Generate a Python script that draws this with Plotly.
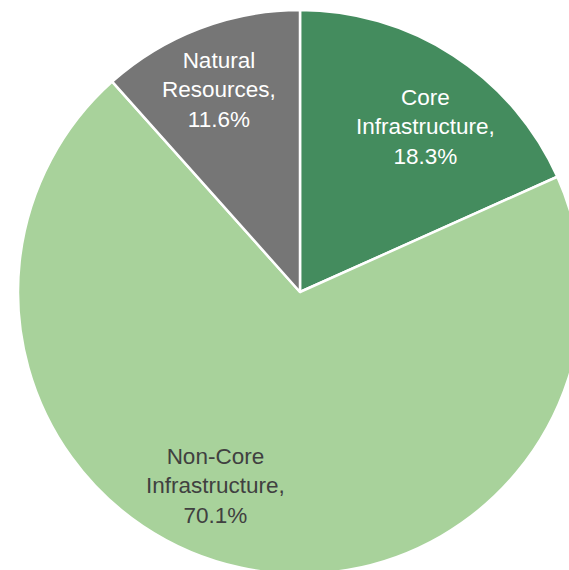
import plotly.graph_objects as go

# Sector shares of the portfolio (percent)
labels = ["Core Infrastructure", "Non-Core Infrastructure", "Natural Resources"]
label_lines = [["Core", "Infrastructure,"], ["Non-Core", "Infrastructure,"], ["Natural", "Resources,"]]
shares = [18.3, 70.1, 11.6]
colors = ["#448C5E", "#A8D29B", "#767676"]
text_colors = ["#FFFFFF", "#404040", "#FFFFFF"]

W, H = 600, 600
# pie placement in pixels: center and radius
cx, cy, r = 300, 292, 282

fig = go.Figure(
    go.Pie(
        labels=labels,
        values=shares,
        sort=False,
        direction="clockwise",
        rotation=0,
        marker=dict(colors=colors, line=dict(color="#FFFFFF", width=2.5)),
        textinfo="none",
        hoverinfo="skip",
        showlegend=False,
        domain=dict(
            x=[(cx - r) / W, (cx + r) / W],
            y=[(H - (cy + r)) / H, (H - (cy - r)) / H],
        ),
    )
)

# label anchor points (pixels from top-left) for each slice
label_pos = [(425, 127), (215, 486), (219, 90)]
for lines, val, col, (px, py) in zip(label_lines, shares, text_colors, label_pos):
    fig.add_annotation(
        x=px / W,
        y=1 - py / H,
        xref="paper",
        yref="paper",
        text="<br>".join(lines + [f"{val:.1f}%"]),
        showarrow=False,
        xanchor="center",
        yanchor="middle",
        align="center",
        font=dict(family="Liberation Sans, Arial, sans-serif", size=22.5, color=col),
    )

fig.update_layout(
    width=W,
    height=H,
    margin=dict(l=0, r=0, t=0, b=0),
    paper_bgcolor="#FFFFFF",
    plot_bgcolor="#FFFFFF",
)

fig.write_html(
    "out.html",
    config={"displayModeBar": False},
    post_script=(
        "document.documentElement.style.overflow='hidden';"
        "document.body.style.overflow='hidden';"
        "document.body.style.margin='0';"
    ),
)
